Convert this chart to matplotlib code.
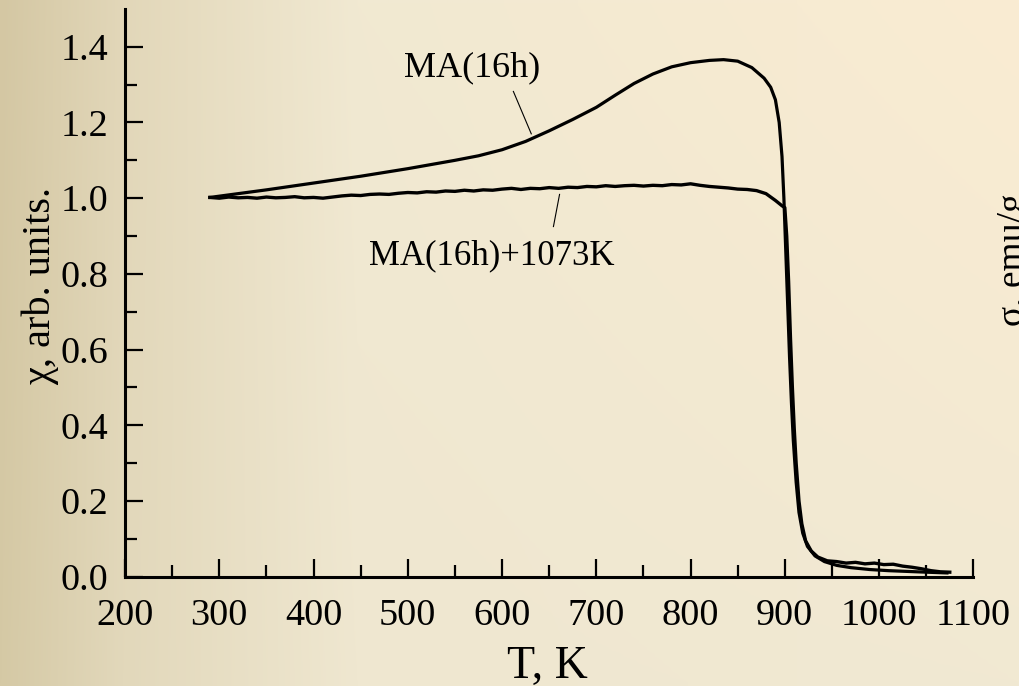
import numpy as np
import matplotlib
matplotlib.use("Agg")
import matplotlib.pyplot as plt
from matplotlib.colors import to_rgb

plt.rcParams["font.family"] = ["Liberation Serif", "DejaVu Serif"]

# MA(16h) as-milled powder
t_ma = [290, 320, 350, 400, 450, 500, 550, 575, 600, 625, 650, 675, 700, 720,
        740, 760, 780, 800, 820, 835, 850, 865, 878, 885, 890, 894, 897, 899,
        901, 903, 905, 907, 909, 912, 915, 919, 924, 932, 942, 955, 970, 990,
        1010, 1030, 1050, 1072]
chi_ma = [1.002, 1.012, 1.022, 1.040, 1.058, 1.078, 1.100, 1.112, 1.128, 1.150,
          1.178, 1.208, 1.240, 1.272, 1.303, 1.328, 1.347, 1.358, 1.364, 1.366,
          1.362, 1.345, 1.317, 1.293, 1.260, 1.200, 1.110, 1.000, 0.860, 0.720,
          0.580, 0.460, 0.360, 0.250, 0.170, 0.115, 0.080, 0.055, 0.040, 0.030,
          0.024, 0.019, 0.016, 0.014, 0.012, 0.010]

# MA(16h) annealed at 1073K
t_ann = [290, 300, 310, 320, 330, 340, 350, 360, 370, 380, 390, 400, 410, 420,
         430, 440, 450, 460, 470, 480, 490, 500, 510, 520, 530, 540, 550, 560,
         570, 580, 590, 600, 610, 620, 630, 640, 650, 660, 670, 680, 690, 700,
         710, 720, 730, 740, 750, 760, 770, 780, 790, 800, 810, 820, 830, 840,
         850, 860, 870, 880, 890, 897, 900, 902, 904, 906, 908, 910, 912, 915,
         918, 922, 928, 935, 945, 955, 965, 975, 985, 995, 1005, 1015, 1025,
         1035, 1045, 1055, 1065, 1075]
chi_ann = [1.002, 1.000, 1.003, 1.001, 1.002, 1.000, 1.003, 1.001, 1.002, 1.004,
           1.001, 1.002, 1.000, 1.003, 1.006, 1.008, 1.007, 1.010, 1.011, 1.010,
           1.013, 1.015, 1.014, 1.017, 1.016, 1.019, 1.018, 1.021, 1.019, 1.022,
           1.021, 1.024, 1.026, 1.023, 1.026, 1.025, 1.028, 1.026, 1.029, 1.028,
           1.031, 1.030, 1.033, 1.031, 1.033, 1.034, 1.032, 1.034, 1.033, 1.036,
           1.035, 1.038, 1.034, 1.031, 1.029, 1.027, 1.024, 1.023, 1.020, 1.012,
           0.994, 0.980, 0.975, 0.900, 0.780, 0.630, 0.500, 0.390, 0.300, 0.200,
           0.140, 0.095, 0.068, 0.052, 0.042, 0.040, 0.036, 0.038, 0.034, 0.036,
           0.032, 0.033, 0.028, 0.025, 0.021, 0.016, 0.013, 0.012]

x_ticks = [200, 300, 400, 500, 600, 700, 800, 900, 1000, 1100]
y_ticks = [0.0, 0.2, 0.4, 0.6, 0.8, 1.0, 1.2, 1.4]


def background(fig):
    # tan on the left fading to cream on the right
    bg = fig.add_axes([0, 0, 1, 1], zorder=-10)
    bg.axis("off")
    xs = np.linspace(0, 1, 400)
    stops = [0.0, 0.12, 0.35, 1.0]
    top = [to_rgb(c) for c in ["#d4c7a3", "#e2d7b9", "#f1e9d2", "#faecd2"]]
    bot = [to_rgb(c) for c in ["#d5c9a5", "#e2d8bb", "#efe7d0", "#f1e9d3"]]
    top_row = np.stack([np.interp(xs, stops, [c[i] for c in top]) for i in range(3)], axis=-1)
    bot_row = np.stack([np.interp(xs, stops, [c[i] for c in bot]) for i in range(3)], axis=-1)
    w = np.linspace(0, 1, 100)[:, None, None]
    img = top_row[None] * (1 - w) + bot_row[None] * w
    bg.imshow(img, aspect="auto", extent=[0, 1, 0, 1], origin="upper")
    bg.set_xlim(0, 1)
    bg.set_ylim(0, 1)


fig = plt.figure(figsize=(10.19, 6.86), dpi=100)
background(fig)

ax = fig.add_axes([0.1227, 0.1593, 0.8325, 0.8277])
ax.set_facecolor("none")

ax.plot(t_ma, chi_ma, color="black", lw=2.3)
ax.plot(t_ann, chi_ann, color="black", lw=2.4)

ax.set_xlim(200, 1100)
ax.set_ylim(0, 1.5)
ax.set_xticks(x_ticks)
ax.set_yticks(y_ticks)
ax.set_yticklabels([f"{v:.1f}" for v in y_ticks])
ax.set_xticks(np.arange(250, 1100, 100), minor=True)
ax.set_yticks(np.arange(0.1, 1.5, 0.2), minor=True)

for side in ["top", "right"]:
    ax.spines[side].set_visible(False)
for side in ["left", "bottom"]:
    ax.spines[side].set_linewidth(2.2)

ax.tick_params(which="major", direction="in", length=13, width=1.6, labelsize=27.5)
ax.tick_params(axis="x", which="major", pad=16)
ax.tick_params(axis="y", which="major", pad=12)
ax.tick_params(which="minor", direction="in", length=8.5, width=1.6)

# curve labels with leader lines
ax.text(568, 1.322, "MA(16h)", fontsize=26, ha="center", va="baseline")
ax.plot([612, 631], [1.282, 1.170], color="black", lw=0.8)
ax.text(589, 0.824, "MA(16h)+1073K", fontsize=25, ha="center", va="baseline")
ax.plot([661, 654.5], [1.01, 0.925], color="black", lw=0.8)

fig.text(0.040, 0.583, "χ, arb. units.", fontsize=29, rotation=90, ha="center", va="center")
fig.text(0.537, 0.0117, "T, K", fontsize=33, ha="center", va="baseline")
# label of the neighbouring panel, cut by the figure edge
fig.text(0.978, 0.621, "σ, emu/g", fontsize=27, rotation=90, ha="left", va="center")

plt.savefig("out.png", dpi=100)
